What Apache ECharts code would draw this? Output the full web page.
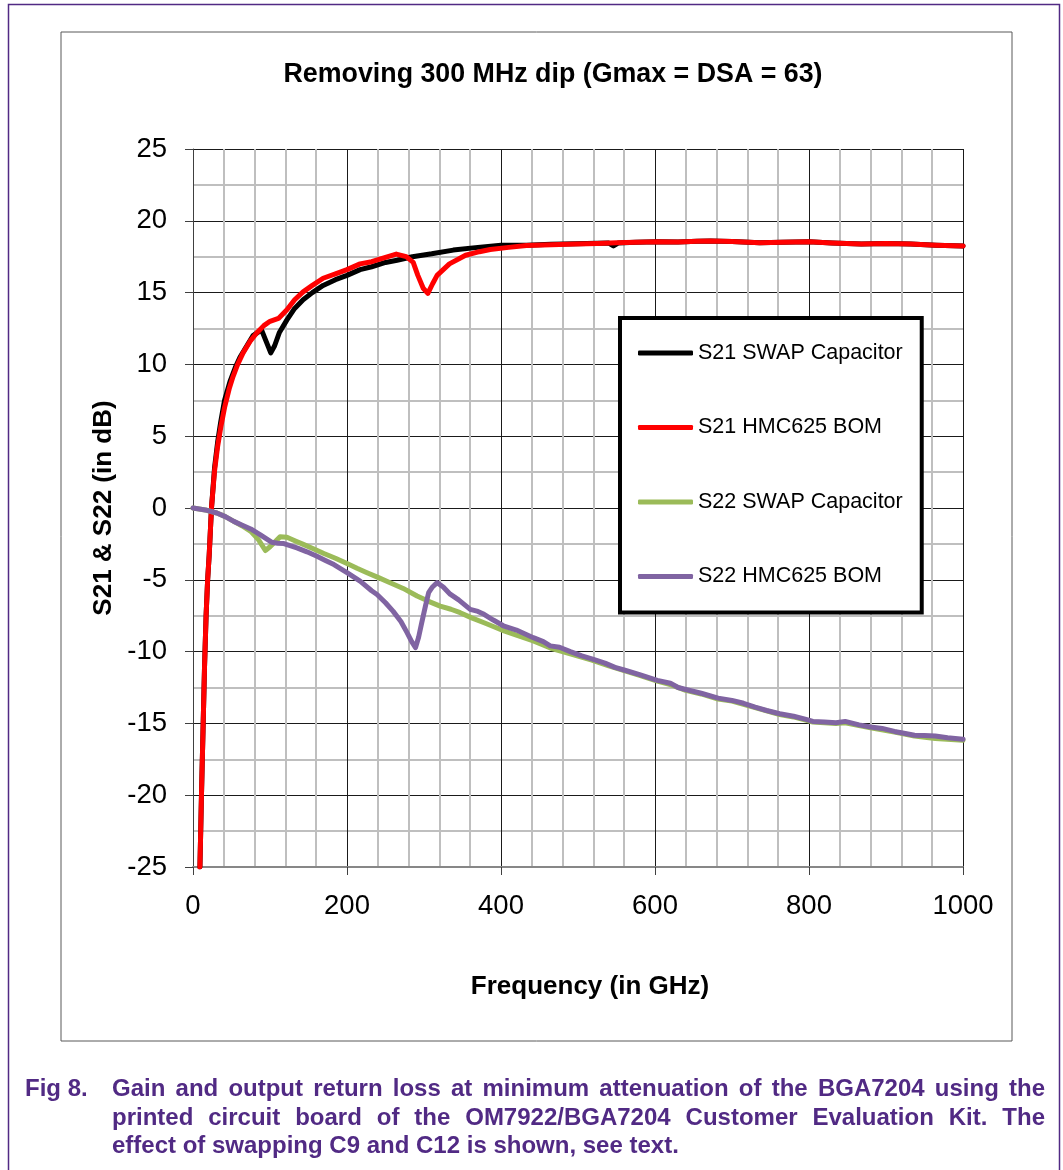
<!DOCTYPE html>
<html>
<head>
<meta charset="utf-8">
<script src="https://cdn.jsdelivr.net/npm/echarts@6/dist/echarts.min.js"></script>
<style>
  body { margin: 0; background: #fff; }
  #main { position: absolute; left: 0; top: 0; width: 1063px; height: 1170px; }
  .cap { position: absolute; font-family: "Liberation Sans", Arial, sans-serif; font-weight: bold;
         font-size: 24px; line-height: 28.5px; color: #512a84; }
  .cap .ln { white-space: nowrap; }
  .cap .j { text-align: justify; text-align-last: justify; white-space: normal; }
</style>
</head>
<body>
<div id="main"></div>
<div class="cap" style="left:25px; top:1074px;">Fig 8.</div>
<div class="cap" style="left:112px; top:1074px; width:933px;">
  <div class="ln j">Gain and output return loss at minimum attenuation of the BGA7204 using the</div>
  <div class="ln j">printed circuit board of the OM7922/BGA7204 Customer Evaluation Kit. The</div>
  <div class="ln">effect of swapping C9 and C12 is shown, see text.</div>
</div>
<script>
// S21, C9/C12 swapped
var s21SwapFreq = [9, 11, 13, 15, 17, 19, 21, 24, 28, 32, 36, 41, 48, 55, 61, 70, 78, 89, 95, 101, 106, 112, 122, 132, 143, 155, 169, 185, 200, 217, 232, 250, 265, 285, 310, 338, 370, 400, 433, 465, 497, 525, 540, 546, 552, 575, 603, 630, 655, 672, 700, 736, 765, 800, 830, 868, 900, 932, 965, 1000];
var s21SwapDb = [-25, -20, -15.5, -11, -7.5, -5, -3.3, 0, 2.8, 4.6, 6.0, 7.5, 8.8, 9.8, 10.5, 11.3, 12.0, 12.4, 11.6, 10.8, 11.3, 12.2, 13.1, 13.9, 14.5, 15.0, 15.5, 15.9, 16.2, 16.6, 16.8, 17.1, 17.25, 17.5, 17.7, 17.96, 18.15, 18.3, 18.3, 18.36, 18.4, 18.44, 18.45, 18.25, 18.45, 18.5, 18.54, 18.52, 18.58, 18.6, 18.55, 18.47, 18.5, 18.54, 18.45, 18.38, 18.42, 18.38, 18.3, 18.24];

// S21, HMC625 BOM
var s21HmcFreq = [9, 11, 13, 15, 17, 19, 21, 24, 28, 32, 36, 41, 47, 52, 58, 65, 74, 83, 92, 100, 111, 122, 132, 143, 155, 169, 185, 200, 217, 232, 250, 264, 277, 286, 292, 299, 305, 311, 317, 333, 354, 372, 386, 410, 433, 465, 497, 525, 550, 575, 603, 630, 655, 672, 700, 736, 765, 800, 830, 868, 900, 932, 965, 1000];
var s21HmcDb = [-25, -20, -15.5, -11, -7.5, -5, -3.3, 0, 2.6, 4.3, 5.6, 7.0, 8.3, 9.15, 10.0, 10.8, 11.6, 12.2, 12.7, 13.0, 13.2, 13.8, 14.5, 15.05, 15.5, 16.0, 16.3, 16.6, 17.0, 17.15, 17.45, 17.68, 17.5, 17.1, 16.2, 15.3, 14.95, 15.6, 16.2, 17.0, 17.6, 17.85, 18.0, 18.15, 18.28, 18.34, 18.38, 18.42, 18.47, 18.5, 18.54, 18.52, 18.58, 18.6, 18.55, 18.47, 18.5, 18.54, 18.45, 18.38, 18.42, 18.38, 18.3, 18.24];

// S22, C9/C12 swapped
var s22SwapFreq = [0, 18, 31, 42, 53, 64, 75, 85, 94, 100, 105, 113, 122, 133, 144, 157, 170, 185, 200, 213, 226, 241, 256, 273, 291, 306, 321, 335, 347, 362, 378, 390, 404, 420, 442, 465, 490, 518, 540, 561, 580, 603, 620, 640, 660, 682, 700, 730, 762, 780, 805, 835, 847, 865, 880, 911, 937, 964, 1000];
var s22SwapDb = [0, -0.16, -0.35, -0.6, -0.93, -1.25, -1.62, -2.2, -2.96, -2.7, -2.43, -2.01, -2.04, -2.3, -2.55, -2.85, -3.17, -3.5, -3.87, -4.2, -4.51, -4.85, -5.2, -5.6, -6.13, -6.5, -6.83, -7.05, -7.29, -7.65, -7.99, -8.25, -8.56, -8.85, -9.26, -9.77, -10.15, -10.6, -11.0, -11.35, -11.65, -12.05, -12.3, -12.7, -12.95, -13.3, -13.45, -13.9, -14.38, -14.55, -14.9, -15.0, -14.95, -15.15, -15.3, -15.6, -15.88, -16.05, -16.18];

// S22, HMC625 BOM
var s22HmcFreq = [0, 18, 31, 42, 53, 64, 75, 87, 102, 110, 118, 135, 148, 161, 172, 183, 200, 217, 232, 239, 250, 260, 270, 278, 284, 289, 293, 297, 302, 306, 311, 317, 325, 334, 345, 360, 370, 378, 390, 403, 420, 442, 455, 464, 476, 490, 505, 518, 535, 548, 561, 580, 603, 620, 630, 640, 660, 682, 700, 715, 730, 745, 762, 780, 795, 805, 820, 835, 847, 865, 880, 895, 911, 925, 937, 950, 964, 980, 1000];
var s22HmcDb = [0, -0.16, -0.35, -0.6, -0.93, -1.2, -1.46, -1.85, -2.38, -2.45, -2.48, -2.78, -3.05, -3.36, -3.65, -3.94, -4.5, -5.09, -5.76, -6.02, -6.6, -7.2, -7.9, -8.68, -9.3, -9.72, -9.0, -8.0, -6.8, -5.9, -5.5, -5.2, -5.5, -6.0, -6.4, -7.06, -7.2, -7.4, -7.8, -8.2, -8.5, -9.03, -9.3, -9.6, -9.7, -10.0, -10.3, -10.5, -10.8, -11.1, -11.3, -11.6, -12.0, -12.2, -12.5, -12.64, -12.9, -13.24, -13.4, -13.6, -13.87, -14.1, -14.33, -14.5, -14.7, -14.86, -14.9, -14.95, -14.86, -15.1, -15.25, -15.35, -15.56, -15.7, -15.83, -15.85, -15.88, -16.0, -16.1];

var seriesNames = ['S21 SWAP Capacitor', 'S21 HMC625 BOM', 'S22 SWAP Capacitor', 'S22 HMC625 BOM'];
var seriesColors = ['#000000', '#ff0000', '#9bbb59', '#8064a2'];
var xTicks = [0, 200, 400, 600, 800, 1000];
var yTicks = [-25, -20, -15, -10, -5, 0, 5, 10, 15, 20, 25];

var FONT = '"Liberation Sans", Arial, sans-serif';
var PURPLE = '#512a84';

function zip(xs, ys) {
    var out = [];
    for (var i = 0; i < xs.length; i++) out.push([xs[i], ys[i]]);
    return out;
}

var seriesData = [
    zip(s21SwapFreq, s21SwapDb),
    zip(s21HmcFreq, s21HmcDb),
    zip(s22SwapFreq, s22SwapDb),
    zip(s22HmcFreq, s22HmcDb)
];

var chart = echarts.init(document.getElementById('main'), null, {renderer: 'canvas'});

var option = {
    animation: false,
    backgroundColor: '#fff',
    textStyle: {fontFamily: FONT},
    title: {
        text: 'Removing 300 MHz dip (Gmax = DSA = 63)',
        left: 548,
        textAlign: 'center',
        top: 56,
        textStyle: {fontFamily: FONT, fontSize: 26.8, fontWeight: 'bold', color: '#000'}
    },
    graphic: [
        {type: 'rect', shape: {x: 8.5, y: 4.5, width: 1051, height: 1300},
            style: {fill: null, stroke: PURPLE, lineWidth: 1.5}, z: 0},
        {type: 'rect', shape: {x: 61, y: 32, width: 951, height: 1009},
            style: {fill: null, stroke: '#595959', lineWidth: 1}, z: 0}
    ],
    legend: {
        orient: 'vertical',
        left: 620,
        top: 318,
        padding: [24, 19, 25, 18],
        itemGap: 52.5,
        itemWidth: 55,
        itemHeight: 5,
        icon: 'roundRect',
        borderColor: '#000',
        borderWidth: 4,
        backgroundColor: '#fff',
        textStyle: {fontFamily: FONT, fontSize: 21.5, color: '#000'},
        data: seriesNames
    },
    grid: {left: 193, top: 149, width: 770, height: 718, containLabel: false},
    xAxis: {
        type: 'value',
        min: xTicks[0],
        max: xTicks[xTicks.length - 1],
        interval: 200,
        name: 'Frequency (in GHz)',
        nameLocation: 'middle',
        nameGap: 107,
        nameTextStyle: {fontFamily: FONT, fontSize: 26, fontWeight: 'bold', color: '#000', padding: [0, 0, 0, 24]},
        axisLine: {show: true, onZero: false, lineStyle: {color: '#878787', width: 2}},
        axisTick: {show: true, length: 8, lineStyle: {color: '#404040', width: 1}},
        axisLabel: {fontFamily: FONT, fontSize: 27.5, color: '#000', margin: 25,
            formatter: function (v) { return String(v); }},
        splitLine: {show: true, lineStyle: {color: '#1a1a1a', width: 1}},
        minorTick: {show: false, splitNumber: 5},
        minorSplitLine: {show: true, lineStyle: {color: '#bfbfbf', width: 2}}
    },
    yAxis: {
        type: 'value',
        min: yTicks[0],
        max: yTicks[yTicks.length - 1],
        interval: 5,
        name: 'S21 & S22 (in dB)',
        nameLocation: 'middle',
        nameGap: 76,
        nameTextStyle: {fontFamily: FONT, fontSize: 26, fontWeight: 'bold', color: '#000'},
        axisLine: {show: true, onZero: false, lineStyle: {color: '#404040', width: 1}},
        axisTick: {show: true, length: 8, lineStyle: {color: '#404040', width: 1}},
        axisLabel: {fontFamily: FONT, fontSize: 27.5, color: '#000', margin: 26,
            formatter: function (v) { return String(v); }},
        splitLine: {show: true, lineStyle: {color: '#1a1a1a', width: 1}},
        minorTick: {show: false, splitNumber: 2},
        minorSplitLine: {show: true, lineStyle: {color: '#bfbfbf', width: 2}}
    },
    series: seriesNames.map(function (name, i) {
        return {
            name: name,
            type: 'line',
            data: seriesData[i],
            showSymbol: false,
            symbol: 'none',
            clip: true,
            color: seriesColors[i],
            lineStyle: {color: seriesColors[i], width: 5, cap: 'round', join: 'round'}
        };
    })
};

chart.setOption(option);
</script>
</body>
</html>
